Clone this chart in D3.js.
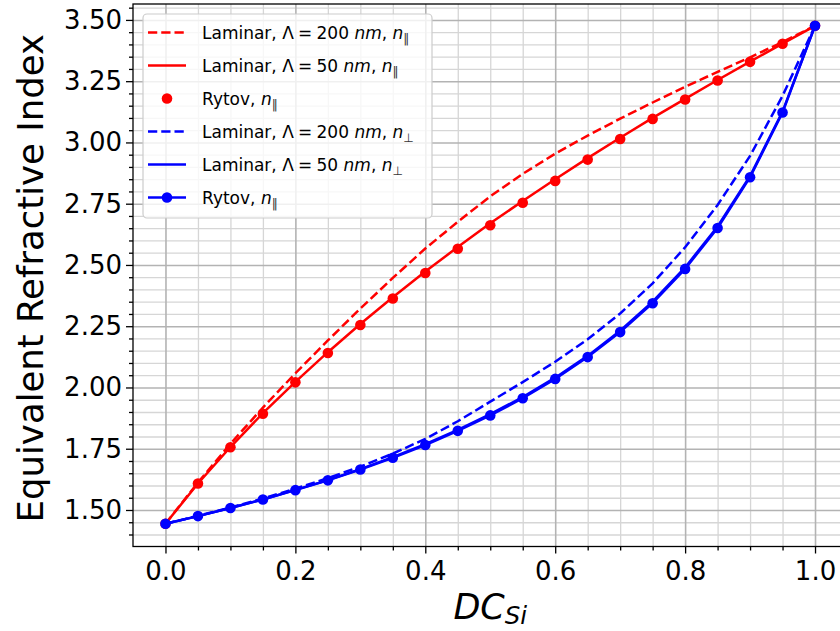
<!DOCTYPE html>
<html>
<head>
<meta charset="utf-8">
<script src="https://cdn.jsdelivr.net/npm/d3@7"></script>
<style>
  body { margin: 0; background: #fff; }
  svg { display: block; font-family: "DejaVu Sans", sans-serif; }
</style>
</head>
<body>
<svg id="chart" width="840" height="631"></svg>
<script>
// Duty cycle of silicon in the grating period
const dutyCycle = [0, 0.05, 0.1, 0.15, 0.2, 0.25, 0.3, 0.35, 0.4, 0.45, 0.5,
                   0.55, 0.6, 0.65, 0.7, 0.75, 0.8, 0.85, 0.9, 0.95, 1.0];

// Parallel (TE-like) equivalent index
const laminar200Par = [1.444, 1.612, 1.770, 1.918, 2.058, 2.192, 2.322, 2.447, 2.567, 2.676, 2.780,
                       2.872, 2.954, 3.028, 3.097, 3.163, 3.227, 3.288, 3.347, 3.410, 3.476];
const laminar50Par  = [1.444, 1.608, 1.757, 1.895, 2.023, 2.144, 2.259, 2.368, 2.473, 2.573, 2.670,
                       2.761, 2.850, 2.936, 3.019, 3.100, 3.178, 3.255, 3.330, 3.403, 3.476];
const rytovPar      = [1.444, 1.608, 1.756, 1.893, 2.021, 2.141, 2.255, 2.363, 2.467, 2.566, 2.662,
                       2.754, 2.843, 2.930, 3.014, 3.096, 3.175, 3.253, 3.329, 3.403, 3.476];

// Perpendicular (TM-like) equivalent index
const laminar200Perp = [1.444, 1.476, 1.510, 1.547, 1.587, 1.630, 1.677, 1.730, 1.790, 1.862, 1.942,
                        2.022, 2.105, 2.197, 2.302, 2.425, 2.572, 2.745, 2.945, 3.190, 3.476];
const laminar50Perp  = [1.444, 1.475, 1.508, 1.543, 1.582, 1.622, 1.667, 1.716, 1.769, 1.827, 1.891,
                        1.961, 2.040, 2.129, 2.232, 2.350, 2.490, 2.657, 2.863, 3.126, 3.476];
const rytovPerp      = [1.444, 1.475, 1.508, 1.543, 1.581, 1.621, 1.665, 1.713, 1.765, 1.823, 1.886,
                        1.956, 2.035, 2.124, 2.226, 2.344, 2.484, 2.651, 2.858, 3.122, 3.476];

// Tick values
const xMajorTicks = [0.0, 0.2, 0.4, 0.6, 0.8, 1.0];
const yMajorTicks = [1.50, 1.75, 2.00, 2.25, 2.50, 2.75, 3.00, 3.25, 3.50];

const W = 840, H = 631;
const plot = { left: 133, right: 847.5, top: 4, bottom: 546.5 };

const svg = d3.select("#chart");
svg.append("rect").attr("width", W).attr("height", H).attr("fill", "#fff");

const x = d3.scaleLinear().domain([-0.05, 1.05]).range([plot.left, plot.right]);
const y = d3.scaleLinear().domain([1.351, 3.565]).range([plot.bottom, plot.top]);

// Minor tick positions every 0.05
const xMinorTicks = d3.range(1, 22).map(i => +(i * 0.05).toFixed(2))
  .filter(v => !xMajorTicks.some(m => Math.abs(m - v) < 1e-9));
const yMinorTicks = d3.range(28, 72).map(i => +(i * 0.05).toFixed(2))
  .filter(v => v > 1.351 && v < 3.565 && !yMajorTicks.some(m => Math.abs(m - v) < 1e-9));

const pw = plot.right - plot.left, ph = plot.bottom - plot.top;

// ---- grid: minor first, then major ----
function grid(axisGen, tr, color, width) {
  const g = svg.append("g").attr("transform", tr).call(axisGen);
  g.select(".domain").remove();
  g.selectAll("text").remove();
  g.selectAll("line").attr("stroke", color).attr("stroke-width", width);
  return g;
}
grid(d3.axisBottom(x).tickValues(xMinorTicks).tickSize(-ph).tickFormat(""),
     `translate(0,${plot.bottom})`, "#d6d6d6", 1.3);
grid(d3.axisLeft(y).tickValues(yMinorTicks).tickSize(-pw).tickFormat(""),
     `translate(${plot.left},0)`, "#d6d6d6", 1.3);
grid(d3.axisBottom(x).tickValues(xMajorTicks).tickSize(-ph).tickFormat(""),
     `translate(0,${plot.bottom})`, "#b3b3b3", 1.6);
grid(d3.axisLeft(y).tickValues(yMajorTicks).tickSize(-pw).tickFormat(""),
     `translate(${plot.left},0)`, "#b3b3b3", 1.6);

// ---- data series ----
const RED = "#ff0000", BLUE = "#0000ff";
const LW = 2.5, DASH = "9.25,4";
const line = d3.line().x(d => x(d[0])).y(d => y(d[1]));
const pairs = vals => dutyCycle.map((d, i) => [d, vals[i]]);

const dataLayer = svg.append("g");
function drawLine(vals, color, dash) {
  dataLayer.append("path").datum(pairs(vals))
    .attr("d", line).attr("fill", "none")
    .attr("stroke", color).attr("stroke-width", LW)
    .attr("stroke-dasharray", dash || null);
}
function drawDots(vals, color) {
  dataLayer.append("g").selectAll("circle").data(pairs(vals)).join("circle")
    .attr("cx", d => x(d[0])).attr("cy", d => y(d[1]))
    .attr("r", 5.3).attr("fill", color);
}

drawLine(laminar200Par, RED, DASH);
drawLine(laminar50Par, RED);
drawDots(rytovPar, RED);
drawLine(laminar200Perp, BLUE, DASH);
drawLine(laminar50Perp, BLUE);
drawLine(rytovPerp, BLUE);
drawDots(rytovPerp, BLUE);

// ---- axes ----
const TICK_FONT = 26;
function styleAxis(g) {
  g.selectAll("line").attr("stroke", "#000").attr("stroke-width", 1.3);
  g.selectAll("text").attr("fill", "#000").style("font-size", TICK_FONT + "px")
    .style("font-family", "DejaVu Sans");
}
// minor ticks
svg.append("g").attr("transform", `translate(0,${plot.bottom})`)
  .call(d3.axisBottom(x).tickValues(xMinorTicks).tickSize(4).tickFormat(""))
  .call(g => { g.select(".domain").remove(); styleAxis(g); });
svg.append("g").attr("transform", `translate(${plot.left},0)`)
  .call(d3.axisLeft(y).tickValues(yMinorTicks).tickSize(4).tickFormat(""))
  .call(g => { g.select(".domain").remove(); styleAxis(g); });
// major ticks with labels
svg.append("g").attr("transform", `translate(0,${plot.bottom})`)
  .call(d3.axisBottom(x).tickValues(xMajorTicks).tickSize(7).tickPadding(8).tickFormat(d3.format(".1f")))
  .call(g => { g.select(".domain").remove(); styleAxis(g); });
svg.append("g").attr("transform", `translate(${plot.left},0)`)
  .call(d3.axisLeft(y).tickValues(yMajorTicks).tickSize(7).tickPadding(4).tickFormat(d3.format(".2f")))
  .call(g => { g.select(".domain").remove(); styleAxis(g); });

// spines
svg.append("rect")
  .attr("x", plot.left).attr("y", plot.top).attr("width", pw).attr("height", ph)
  .attr("fill", "none").attr("stroke", "#000").attr("stroke-width", 1.3);

// ---- axis titles ----
svg.append("text")
  .attr("transform", `translate(43,${(plot.top + plot.bottom) / 2 + 3}) rotate(-90)`)
  .attr("text-anchor", "middle")
  .style("font-size", "35.5px").attr("fill", "#000")
  .text("Equivalent Refractive Index");

const xt = svg.append("text")
  .attr("x", (plot.left + plot.right) / 2).attr("y", 619)
  .attr("text-anchor", "middle").style("font-size", "35px")
  .style("font-style", "italic").attr("fill", "#000");
xt.append("tspan").text("DC");
xt.append("tspan").attr("dy", 5).style("font-size", "24.5px").text("Si");

// ---- legend ----
const PAR = "\u2016", PERP = "\u22a5";
const legendItems = [
  { color: RED,  kind: "dash", lam: "200", sub: PAR },
  { color: RED,  kind: "line", lam: "50",  sub: PAR },
  { color: RED,  kind: "dot",  rytov: true, sub: PAR },
  { color: BLUE, kind: "dash", lam: "200", sub: PERP },
  { color: BLUE, kind: "line", lam: "50",  sub: PERP },
  { color: BLUE, kind: "lineDot", rytov: true, sub: PAR }
];
const lg = svg.append("g");
lg.append("rect").attr("x", 143).attr("y", 14).attr("width", 289).attr("height", 204)
  .attr("rx", 4).attr("fill", "#fff").attr("fill-opacity", 0.8)
  .attr("stroke", "#cccccc").attr("stroke-width", 1.2);

const LEG_FONT = 17;
legendItems.forEach((it, i) => {
  const cy = 32.5 + i * 33;
  const row = lg.append("g");
  if (it.kind !== "dot") {
    row.append("line").attr("x1", 148).attr("x2", 186).attr("y1", cy).attr("y2", cy)
      .attr("stroke", it.color).attr("stroke-width", LW)
      .attr("stroke-dasharray", it.kind === "dash" ? DASH : null);
  }
  if (it.kind === "dot" || it.kind === "lineDot") {
    row.append("circle").attr("cx", 167).attr("cy", cy).attr("r", 5.3).attr("fill", it.color);
  }
  const t = row.append("text").attr("x", 202).attr("y", cy + 6)
    .style("font-size", LEG_FONT + "px").attr("fill", "#000");
  if (it.rytov) {
    t.append("tspan").text("Rytov, ");
  } else {
    t.append("tspan").text("Laminar, \u039b\u2005=\u2005" + it.lam + " ");
    t.append("tspan").style("font-style", "italic").text("nm");
    t.append("tspan").text(", ");
  }
  t.append("tspan").style("font-style", "italic").text("n");
  t.append("tspan").attr("dy", 4).style("font-size", "12px")
    .style("font-family", "DejaVu Sans").attr("fill", "#333").text(it.sub);
});
</script>
</body>
</html>
